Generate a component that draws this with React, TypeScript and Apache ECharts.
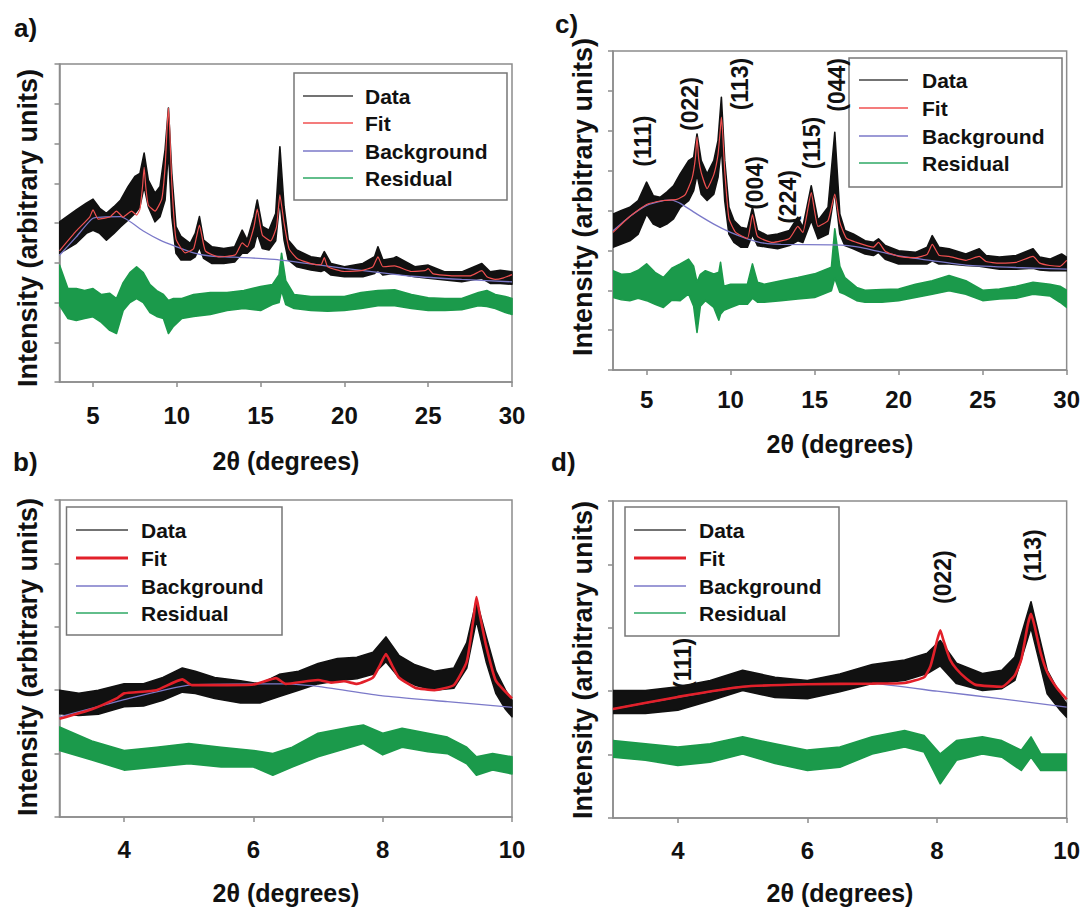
import React, { useEffect, useRef } from "react";
import * as echarts from "echarts";

const FONT = '"Liberation Sans", Arial, Helvetica, sans-serif';

// ---------- Panel a (3–30°) ----------
const A_X = [3, 4, 4.6, 5, 5.4, 5.8, 6.25, 6.65, 7.1, 7.5, 7.8, 8.05, 8.3, 8.7, 9.0, 9.3, 9.5, 9.7, 9.95, 10.25, 10.8, 11.1, 11.35, 11.6, 12.1, 12.8, 13.45, 13.9, 14.2, 14.6, 14.8, 15.1, 15.5, 15.9, 16.15, 16.4, 16.65, 17.15, 18, 18.6, 18.8, 19.2, 20, 21.1, 21.8, 22, 22.3, 22.9, 23.1, 24.2, 25, 26, 27, 28.2, 28.7, 29.3, 30];
const A_DATA_HI = [4.03, 4.33, 4.5, 4.6, 4.37, 4.24, 4.41, 4.58, 4.92, 5.17, 5.25, 5.76, 5.08, 4.75, 4.92, 5.84, 6.89, 5.25, 3.91, 3.66, 3.49, 3.74, 4.16, 3.57, 3.4, 3.36, 3.4, 3.82, 3.57, 4.16, 4.58, 3.91, 3.82, 4.24, 5.92, 4.41, 3.57, 3.32, 3.15, 3.11, 3.28, 2.98, 2.9, 2.98, 3.15, 3.4, 3.07, 3.11, 3.15, 2.9, 2.94, 2.77, 2.77, 2.98, 2.77, 2.81, 2.77];
const A_DATA_LO = [3.24, 3.49, 3.74, 3.82, 3.74, 3.57, 3.74, 3.91, 4.08, 4.24, 4.41, 4.92, 4.41, 4.03, 4.16, 4.58, 5.84, 4.16, 3.24, 3.07, 3.07, 3.15, 3.4, 3.11, 2.98, 2.98, 3.02, 3.24, 3.24, 3.4, 3.74, 3.36, 3.32, 3.55, 4.58, 3.57, 3.07, 2.9, 2.82, 2.78, 2.82, 2.69, 2.65, 2.65, 2.73, 2.82, 2.69, 2.73, 2.73, 2.65, 2.61, 2.57, 2.52, 2.61, 2.48, 2.48, 2.46];
const A_FIT = [[3, 3.3], [4, 3.8], [4.8, 4.15], [5, 4.33], [5.3, 4.1], [6, 4.15], [6.4, 4.3], [6.8, 4.15], [7.3, 4.3], [7.6, 4.2], [7.8, 4.35], [7.95, 4.9], [8.05, 5.4], [8.15, 4.9], [8.3, 4.45], [8.7, 4.3], [9.1, 4.6], [9.3, 5.4], [9.42, 6.4], [9.5, 6.89], [9.58, 6.3], [9.7, 5.0], [9.95, 3.6], [10.5, 3.25], [11, 3.35], [11.35, 3.95], [11.7, 3.3], [12.5, 3.15], [13.5, 3.2], [13.9, 3.5], [14.2, 3.4], [14.6, 3.9], [14.8, 4.35], [15.1, 3.7], [15.6, 3.55], [15.95, 3.9], [16.15, 4.71], [16.4, 4.0], [16.7, 3.35], [17.2, 3.1], [18, 2.98], [18.6, 2.95], [18.8, 3.13], [19, 2.9], [20, 2.78], [21, 2.8], [21.7, 2.9], [22, 3.15], [22.3, 2.9], [23, 2.92], [24, 2.78], [24.8, 2.8], [25, 2.85], [25.3, 2.72], [26.5, 2.67], [27.5, 2.67], [28.2, 2.8], [28.5, 2.65], [29, 2.58], [29.5, 2.62], [30, 2.7]];
const A_BG = [[3, 3.19], [4, 3.65], [5, 4.12], [6.66, 4.16], [8, 3.8], [9, 3.57], [10, 3.4], [11, 3.25], [12, 3.17], [14, 3.13], [16, 3.08], [18, 2.97], [20, 2.86], [22, 2.76], [24, 2.66], [27, 2.58], [30, 2.52]];
const A_RES_X = [3, 3.5, 4, 4.5, 5, 5.5, 6, 6.4, 6.8, 7.2, 7.6, 8, 8.4, 8.8, 9.2, 9.5, 9.8, 10.3, 11, 12, 13, 14, 15, 15.7, 16.1, 16.25, 16.5, 17, 18, 19, 20, 21, 22, 23, 24, 25, 26, 27, 28, 28.5, 29, 29.6, 30];
const A_RES_HI = [2.94, 2.35, 2.35, 2.3, 2.35, 2.2, 2.23, 2.1, 2.5, 2.75, 2.9, 2.75, 2.45, 2.3, 2.2, 2.05, 2.1, 2.1, 2.2, 2.25, 2.25, 2.3, 2.4, 2.45, 2.7, 3.24, 2.55, 2.2, 2.15, 2.15, 2.15, 2.25, 2.3, 2.32, 2.2, 2.12, 2.1, 2.1, 2.25, 2.3, 2.2, 2.15, 2.1];
const A_RES_LO = [1.93, 1.6, 1.55, 1.6, 1.64, 1.5, 1.3, 1.22, 1.8, 2.0, 2.1, 2.0, 1.75, 1.65, 1.6, 1.22, 1.4, 1.6, 1.65, 1.7, 1.8, 1.85, 1.8, 1.95, 2.0, 2.3, 1.95, 1.85, 1.8, 1.78, 1.8, 1.85, 1.92, 1.92, 1.85, 1.8, 1.8, 1.82, 1.92, 1.9, 1.85, 1.75, 1.7];

// ---------- Panel c (3–30°) ----------
const C_X = [3, 3.5, 4, 4.5, 5, 5.4, 5.8, 6.2, 6.6, 7, 7.5, 7.8, 8.0, 8.25, 8.6, 9.0, 9.25, 9.45, 9.65, 9.9, 10.2, 10.6, 11.0, 11.3, 11.6, 12.2, 12.8, 13.5, 14.0, 14.3, 14.8, 15.2, 15.8, 16.2, 16.5, 16.8, 17.3, 18, 18.5, 18.8, 19.2, 20, 21, 21.7, 22, 22.4, 23, 24, 24.8, 25.2, 26, 27, 28, 28.4, 29, 29.7, 30];
const C_DATA_HI = [3.91, 4.0, 4.08, 4.25, 4.71, 4.37, 4.33, 4.46, 4.62, 4.92, 5.25, 5.33, 5.92, 5.25, 4.92, 5.25, 5.75, 6.84, 5.25, 4.08, 3.75, 3.58, 3.54, 4.08, 3.5, 3.37, 3.41, 3.5, 3.83, 3.58, 4.62, 3.75, 4.08, 5.96, 3.91, 3.5, 3.41, 3.24, 3.2, 3.29, 3.12, 2.99, 2.95, 3.08, 3.37, 3.08, 3.04, 2.91, 3.04, 2.87, 2.83, 2.87, 3.04, 2.83, 2.78, 2.91, 2.83];
const C_DATA_LO = [3.08, 3.16, 3.24, 3.41, 3.91, 3.66, 3.58, 3.66, 3.79, 4.08, 4.25, 4.5, 4.9, 4.41, 4.25, 4.41, 4.83, 5.6, 4.25, 3.41, 3.2, 3.08, 3.08, 3.4, 3.12, 3.08, 3.04, 3.12, 3.24, 3.2, 3.75, 3.29, 3.41, 4.5, 3.41, 3.12, 3.04, 2.91, 2.87, 2.95, 2.78, 2.66, 2.66, 2.66, 2.74, 2.66, 2.66, 2.62, 2.6, 2.58, 2.53, 2.53, 2.55, 2.51, 2.49, 2.49, 2.49];
const C_FIT = [[3, 3.45], [4, 3.85], [5, 4.15], [6, 4.25], [6.8, 4.28], [7.3, 4.4], [7.7, 4.8], [7.9, 5.3], [8.0, 5.85], [8.1, 5.3], [8.25, 4.95], [8.6, 4.55], [9.0, 4.9], [9.25, 5.4], [9.38, 6.0], [9.45, 6.34], [9.52, 6.0], [9.65, 5.0], [9.9, 3.8], [10.3, 3.45], [11, 3.3], [11.3, 3.9], [11.6, 3.35], [12.5, 3.2], [13.5, 3.3], [14.0, 3.6], [14.3, 3.45], [14.8, 4.45], [15.2, 3.6], [15.8, 3.75], [16.2, 4.41], [16.5, 3.7], [16.9, 3.3], [17.5, 3.2], [18.5, 3.08], [18.8, 3.2], [19.2, 2.98], [20, 2.85], [21, 2.82], [21.7, 2.9], [22, 3.15], [22.4, 2.88], [23, 2.85], [24, 2.75], [24.8, 2.85], [25.2, 2.72], [26, 2.68], [27, 2.7], [28, 2.85], [28.4, 2.68], [29, 2.62], [29.6, 2.6], [30, 2.75]];
const C_BG = [[3, 3.49], [4, 3.85], [5, 4.13], [6, 4.25], [6.5, 4.26], [7, 4.18], [8, 3.91], [9, 3.66], [10, 3.45], [11, 3.29], [12, 3.18], [13, 3.15], [16, 3.14], [17, 3.12], [18, 3.05], [20, 2.86], [22, 2.74], [24, 2.63], [27, 2.57], [30, 2.53]];
const C_RES_X = [3, 3.5, 4, 4.5, 5, 5.5, 6, 6.5, 7, 7.5, 7.8, 8.0, 8.2, 8.5, 9.0, 9.3, 9.4, 9.6, 10, 10.5, 11, 11.3, 11.6, 12, 13, 14, 15, 16, 16.2, 16.5, 16.8, 17.5, 18, 19, 20, 21, 22, 23, 24, 25, 26, 27, 28, 29, 29.6, 30];
const C_RES_HI = [2.49, 2.4, 2.41, 2.5, 2.66, 2.45, 2.32, 2.55, 2.66, 2.78, 2.6, 2.2, 2.4, 2.49, 2.41, 2.45, 2.7, 2.1, 2.15, 2.15, 2.15, 2.66, 2.2, 2.15, 2.24, 2.32, 2.41, 2.58, 3.54, 2.6, 2.32, 2.07, 2.0, 2.02, 2.03, 2.15, 2.24, 2.37, 2.24, 2.0, 2.03, 2.1, 2.2, 2.15, 2.1, 2.0];
const C_RES_LO = [1.82, 1.76, 1.74, 1.8, 1.74, 1.65, 1.57, 1.75, 1.74, 1.91, 1.6, 0.94, 1.6, 1.74, 1.57, 1.25, 1.4, 1.5, 1.57, 1.65, 1.65, 1.8, 1.7, 1.7, 1.74, 1.78, 1.82, 1.99, 2.3, 1.95, 1.9, 1.74, 1.7, 1.7, 1.74, 1.82, 1.9, 1.99, 1.9, 1.74, 1.78, 1.8, 1.9, 1.86, 1.7, 1.57];
const C_LABELS = ["(111)", "(022)", "(113)", "(004)", "(224)", "(115)", "(044)"];
const C_LABEL_X = [4.78, 7.58, 10.55, 11.45, 13.42, 14.85, 16.33];
const C_LABEL_Y = [5.74, 6.67, 7.17, 4.69, 4.34, 5.69, 7.15];

// ---------- Panel b (3–10°) ----------
const B_X = [3, 3.3, 3.6, 4, 4.3, 4.6, 4.9, 5.1, 5.4, 5.8, 6.1, 6.4, 6.7, 7.0, 7.3, 7.6, 7.85, 8.05, 8.25, 8.5, 8.8, 9.1, 9.3, 9.45, 9.6, 9.75, 9.9, 10];
const B_DATA_HI = [2.0, 1.95, 2.0, 2.1, 2.1, 2.2, 2.35, 2.3, 2.2, 2.15, 2.1, 2.25, 2.3, 2.42, 2.5, 2.52, 2.6, 2.84, 2.55, 2.4, 2.3, 2.35, 2.75, 3.42, 2.85, 2.3, 2.0, 1.84];
const B_DATA_LO = [1.63, 1.6, 1.62, 1.74, 1.75, 1.84, 1.97, 1.95, 1.87, 1.8, 1.8, 1.9, 2.0, 2.1, 2.15, 2.18, 2.25, 2.45, 2.2, 2.08, 2.0, 2.03, 2.35, 3.1, 2.45, 1.95, 1.7, 1.58];
const B_FIT = [[3, 1.55], [3.5, 1.7], [3.9, 1.88], [4.0, 1.95], [4.5, 2.0], [4.9, 2.17], [5.05, 2.08], [5.5, 2.08], [6, 2.09], [6.35, 2.19], [6.5, 2.1], [7, 2.16], [7.2, 2.12], [7.4, 2.14], [7.6, 2.1], [7.85, 2.2], [7.95, 2.38], [8.05, 2.57], [8.15, 2.38], [8.25, 2.2], [8.5, 2.04], [8.8, 2.0], [9.1, 2.08], [9.3, 2.45], [9.4, 3.1], [9.45, 3.47], [9.5, 3.2], [9.6, 2.7], [9.75, 2.15], [10, 1.87]];
const B_BG = [[3, 1.58], [4, 1.85], [5, 2.08], [6.5, 2.1], [7, 2.06], [8, 1.91], [9, 1.82], [10, 1.73]];
const B_RES_X = [3, 3.5, 4, 4.5, 5, 5.5, 6, 6.3, 6.6, 7, 7.5, 7.7, 8.0, 8.3, 8.7, 9.0, 9.3, 9.45, 9.7, 10];
const B_RES_HI = [1.42, 1.2, 1.05, 1.1, 1.16, 1.1, 1.05, 1.0, 1.1, 1.32, 1.42, 1.45, 1.32, 1.4, 1.32, 1.26, 1.1, 0.95, 1.0, 0.95];
const B_RES_LO = [1.05, 0.9, 0.74, 0.79, 0.84, 0.79, 0.79, 0.66, 0.79, 0.95, 1.1, 1.16, 0.98, 1.1, 1.03, 1.0, 0.84, 0.66, 0.74, 0.68];

// ---------- Panel d (3–10°) ----------
const D_X = [3, 3.5, 4, 4.5, 5, 5.5, 6, 6.5, 7, 7.5, 7.85, 8.05, 8.3, 8.7, 9.0, 9.2, 9.45, 9.7, 9.9, 10];
const D_DATA_HI = [2.01, 2.01, 2.07, 2.17, 2.33, 2.22, 2.17, 2.27, 2.42, 2.49, 2.6, 2.8, 2.44, 2.28, 2.33, 2.54, 3.41, 2.33, 1.95, 1.8];
const D_DATA_LO = [1.65, 1.65, 1.7, 1.85, 2.01, 1.9, 1.88, 1.99, 2.12, 2.17, 2.28, 2.4, 2.12, 2.01, 2.04, 2.17, 3.0, 1.96, 1.7, 1.59];
const D_FIT = [[3, 1.72], [4, 1.91], [5, 2.07], [6, 2.11], [7, 2.12], [7.5, 2.13], [7.8, 2.22], [7.9, 2.4], [8.0, 2.8], [8.05, 2.96], [8.1, 2.8], [8.2, 2.5], [8.3, 2.35], [8.45, 2.2], [8.6, 2.1], [9.0, 2.07], [9.2, 2.25], [9.3, 2.5], [9.4, 3.05], [9.45, 3.22], [9.5, 3.05], [9.6, 2.6], [9.7, 2.3], [9.85, 2.05], [10, 1.87]];
const D_BG = [[3, 1.72], [5, 2.07], [7, 2.12], [8, 2.0], [9, 1.88], [10, 1.75]];
const D_RES_X = [3, 3.5, 4, 4.5, 5, 5.5, 6, 6.5, 7, 7.5, 7.8, 8.05, 8.3, 8.7, 9.0, 9.3, 9.45, 9.6, 10];
const D_RES_HI = [1.22, 1.17, 1.12, 1.17, 1.28, 1.17, 1.07, 1.12, 1.28, 1.38, 1.3, 1.01, 1.22, 1.28, 1.22, 1.07, 1.28, 1.01, 1.01];
const D_RES_LO = [0.96, 0.91, 0.83, 0.88, 1.01, 0.86, 0.75, 0.8, 1.01, 1.12, 1.04, 0.54, 0.91, 1.01, 0.96, 0.75, 0.96, 0.75, 0.75];
const D_LABELS = ["(111)", "(022)", "(113)"];
const D_LABEL_X = [4.08, 8.09, 9.48];
const D_LABEL_Y = [2.44, 3.8, 4.14];

// ---------- axes / legend text ----------
const WIDE_TICKS = [5, 10, 15, 20, 25, 30];
const NARROW_TICKS = [4, 6, 8, 10];
const LEGEND_NAMES = ["Data", "Fit", "Background", "Residual"];
const X_TITLE = "2θ (degrees)";
const Y_TITLE = "Intensity (arbitrary units)";
const PANEL_NAMES = ["a)", "b)", "c)", "d)"];

const BLACK = "#111111";
const GREEN = "#1b9a4b";
const PURPLE = "#7b79c9";
const RED_THIN = "#f05050";
const RED_THICK = "#e2202a";
const AXIS = "#8c8c8c";

function band(idx: number, xs: number[], hi: number[], lo: number[], color: string, z: number) {
  return {
    type: "custom",
    xAxisIndex: idx,
    yAxisIndex: idx,
    data: [[xs[0], lo[0]]],
    silent: true,
    clip: true,
    z,
    renderItem: (_p: any, api: any) => {
      const pts: number[][] = [];
      for (let i = 0; i < xs.length; i++) pts.push(api.coord([xs[i], hi[i]]));
      for (let i = xs.length - 1; i >= 0; i--) pts.push(api.coord([xs[i], lo[i]]));
      return {
        type: "polygon",
        shape: { points: pts },
        style: { fill: color, stroke: color, lineWidth: 1.6, lineJoin: "round" },
      };
    },
  };
}

function line(idx: number, pts: number[][], color: string, width: number, z: number) {
  return {
    type: "line",
    xAxisIndex: idx,
    yAxisIndex: idx,
    data: pts,
    showSymbol: false,
    symbol: "none",
    silent: true,
    smooth: 0.15,
    z,
    lineStyle: { color, width },
  };
}

function labels(idx: number, names: string[], xs: number[], ys: number[]) {
  return {
    type: "custom",
    xAxisIndex: idx,
    yAxisIndex: idx,
    silent: true,
    clip: false,
    z: 10,
    data: names.map((_, i) => [xs[i], ys[i], i]),
    renderItem: (_p: any, api: any) => {
      const pt = api.coord([api.value(0), api.value(1)]);
      const name = names[api.value(2)];
      return {
        type: "text",
        x: pt[0],
        y: pt[1],
        rotation: Math.PI / 2,
        style: {
          text: name,
          font: `bold 23px ${FONT}`,
          fill: BLACK,
          align: "center",
          verticalAlign: "middle",
        },
      };
    },
  };
}

function legendBox(x: number, y: number, w: number, h: number, lx1: number, lx2: number, tx: number, rows: number[], thickFit: boolean) {
  const colors = ["#444444", thickFit ? RED_THICK : RED_THIN, PURPLE, "#2ea865"];
  const widths = [1.5, thickFit ? 3 : 1.5, 1.5, 1.5];
  const children: any[] = [
    { type: "rect", shape: { x, y, width: w, height: h }, style: { fill: "#fff", stroke: "#777", lineWidth: 1.5 } },
  ];
  LEGEND_NAMES.forEach((n, i) => {
    children.push({ type: "line", shape: { x1: lx1, y1: rows[i], x2: lx2, y2: rows[i] }, style: { stroke: colors[i], lineWidth: widths[i] } });
    children.push({ type: "text", x: tx, y: rows[i], style: { text: n, font: `bold 21px ${FONT}`, fill: BLACK, align: "left", verticalAlign: "middle" } });
  });
  return { type: "group", z: 20, children };
}

function textEl(t: string, x: number, y: number, size: number, rotation = 0, align = "center") {
  return {
    type: "text",
    x,
    y,
    rotation,
    z: 20,
    style: { text: t, font: `bold ${size}px ${FONT}`, fill: BLACK, align, verticalAlign: "middle" },
  };
}

export default function App() {
  const ref = useRef<HTMLDivElement>(null);
  useEffect(() => {
    document.body.style.margin = "0";
    if (!ref.current) return;
    const chart = echarts.init(ref.current, null, { renderer: "svg" });

    const grids = [
      { left: 59.5, top: 64, width: 452.5, height: 318 },
      { left: 59.5, top: 500, width: 452.5, height: 317 },
      { left: 613, top: 51, width: 454, height: 319 },
      { left: 613, top: 501, width: 454, height: 317 },
    ].map((g) => ({ ...g, show: true, borderColor: AXIS, borderWidth: 1.5, backgroundColor: "transparent" }));

    const wide = [true, false, true, false];
    const margins = [21, 20, 17, 20];
    const xAxis = grids.map((_, i) => ({
      type: "value",
      gridIndex: i,
      min: 3,
      max: wide[i] ? 30 : 10,
      axisLine: { show: true, onZero: false, lineStyle: { color: AXIS, width: 1.5 } },
      axisTick: { show: true, length: 5, customValues: wide[i] ? WIDE_TICKS : NARROW_TICKS, lineStyle: { color: AXIS, width: 1.5 } },
      axisLabel: { show: true, customValues: wide[i] ? WIDE_TICKS : NARROW_TICKS, margin: margins[i], fontSize: 24, fontWeight: "bold", fontFamily: FONT, color: BLACK },
      splitLine: { show: false },
    }));
    const yAxis = grids.map((_, i) => ({
      type: "value",
      gridIndex: i,
      min: 0,
      max: wide[i] ? 8 : 5,
      interval: 1,
      axisLine: { show: true, onZero: false, lineStyle: { color: AXIS, width: 1.5 } },
      axisTick: { show: true, length: 5, lineStyle: { color: AXIS, width: 1.5 } },
      axisLabel: { show: false },
      splitLine: { show: false },
    }));

    const series: any[] = [
      // a
      band(0, A_X, A_DATA_HI, A_DATA_LO, BLACK, 2),
      line(0, A_FIT, RED_THIN, 1.2, 4),
      line(0, A_BG, PURPLE, 1.3, 3),
      band(0, A_RES_X, A_RES_HI, A_RES_LO, GREEN, 2),
      // b
      band(1, B_X, B_DATA_HI, B_DATA_LO, BLACK, 2),
      line(1, B_BG, PURPLE, 1.3, 3),
      line(1, B_FIT, RED_THICK, 2.6, 4),
      band(1, B_RES_X, B_RES_HI, B_RES_LO, GREEN, 2),
      // c
      band(2, C_X, C_DATA_HI, C_DATA_LO, BLACK, 2),
      line(2, C_FIT, RED_THIN, 1.2, 4),
      line(2, C_BG, PURPLE, 1.3, 3),
      band(2, C_RES_X, C_RES_HI, C_RES_LO, GREEN, 2),
      labels(2, C_LABELS, C_LABEL_X, C_LABEL_Y),
      // d
      band(3, D_X, D_DATA_HI, D_DATA_LO, BLACK, 2),
      line(3, D_BG, PURPLE, 1.3, 3),
      line(3, D_FIT, RED_THICK, 2.6, 4),
      band(3, D_RES_X, D_RES_HI, D_RES_LO, GREEN, 2),
      labels(3, D_LABELS, D_LABEL_X, D_LABEL_Y),
    ];

    const graphic: any[] = [
      legendBox(294, 73, 213, 127, 303, 353, 365, [96, 123, 151, 178], false),
      legendBox(849, 58, 213, 129, 859, 908, 922, [80, 108, 136, 163], false),
      legendBox(66.5, 507, 215.5, 128, 76, 128, 141, [530, 558, 586, 613], true),
      legendBox(625, 507, 214, 129, 634, 686, 699, [530, 558, 586, 613], true),
      textEl(PANEL_NAMES[0], 14, 28, 26, 0, "left"),
      textEl(PANEL_NAMES[1], 13, 462, 26, 0, "left"),
      textEl(PANEL_NAMES[2], 555, 24, 26, 0, "left"),
      textEl(PANEL_NAMES[3], 551, 462, 26, 0, "left"),
      textEl(X_TITLE, 286, 461, 25),
      textEl(X_TITLE, 286, 893, 25),
      textEl(X_TITLE, 840, 444, 25),
      textEl(X_TITLE, 840, 893, 25),
      textEl(Y_TITLE, 28, 228, 27, Math.PI / 2),
      textEl(Y_TITLE, 28, 657, 27, Math.PI / 2),
      textEl(Y_TITLE, 583, 197, 27, Math.PI / 2),
      textEl(Y_TITLE, 583, 660, 27, Math.PI / 2),
    ];

    chart.setOption({
      animation: false,
      backgroundColor: "#ffffff",
      grid: grids,
      xAxis,
      yAxis,
      series,
      graphic,
    });
    return () => chart.dispose();
  }, []);
  return <div ref={ref} style={{ width: 1083, height: 908 }} />;
}
